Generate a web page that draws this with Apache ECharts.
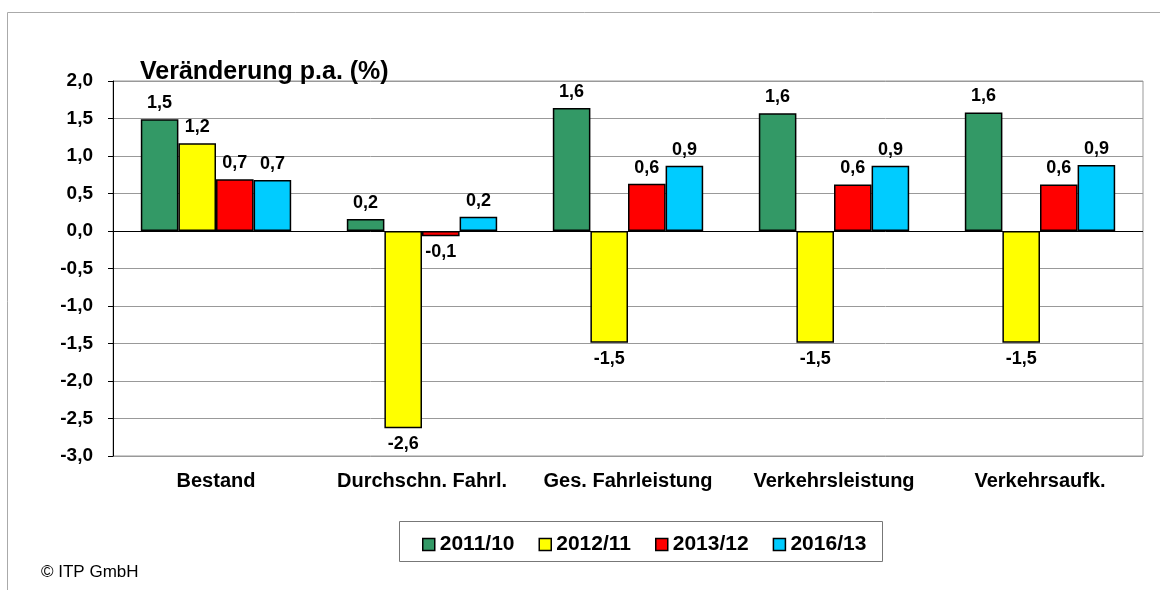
<!DOCTYPE html>
<html>
<head>
<meta charset="utf-8">
<script src="https://cdn.jsdelivr.net/npm/echarts@6/dist/echarts.min.js"></script>
<style>
  html, body { margin: 0; padding: 0; background: #fff; }
  #chart { width: 1160px; height: 590px; }
</style>
</head>
<body>
<div id="chart"></div>
<script>
// Kategorien und Werte
const categories = ['Bestand', 'Durchschn. Fahrl.', 'Ges. Fahrleistung', 'Verkehrsleistung', 'Verkehrsaufk.']
const seriesNames = ['2011/10', '2012/11', '2013/12', '2016/13']
const v2011 = [1.49, 0.16, 1.64, 1.57, 1.58]
const v2012 = [1.17, -2.63, -1.49, -1.49, -1.49]
const v2013 = [0.69, -0.07, 0.63, 0.62, 0.62]
const v2016 = [0.68, 0.19, 0.87, 0.87, 0.88]
const colors = ['#339966', '#ffff00', '#ff0000', '#00ccff']

const fmt = (v) => v.toFixed(1).replace('.', ',')
const font = 'Liberation Sans, Arial, sans-serif'

function makeSeries(name, data, color, idx) {
  const s = {
    name: name,
    type: 'bar',
    data: data.map((v) => ({
      value: v,
      label: { position: v < 0 ? 'bottom' : 'top' },
    })),
    barGap: '0%',
    barCategoryGap: '27%',
    itemStyle: { color: color, borderColor: '#000', borderWidth: 1.5 },
    label: {
      show: true,
      distance: 7,
      color: '#000',
      fontFamily: font,
      fontWeight: 'bold',
      fontSize: 18,
      formatter: (p) => fmt(p.value),
    },
  }
  if (idx === 0) {
    // Nulllinie schwarz
    s.markLine = {
      silent: true,
      symbol: 'none',
      label: { show: false },
      lineStyle: { color: '#000', width: 1, type: 'solid' },
      data: [{ yAxis: 0 }],
    }
  }
  return s
}

const chart = echarts.init(document.getElementById('chart'))
chart.setOption({
  animation: false,
  textStyle: { fontFamily: font },
  title: {
    text: 'Veränderung p.a. (%)',
    left: 135,
    top: 55,
    textStyle: { fontFamily: font, fontWeight: 'bold', fontSize: 25, color: '#000' },
  },
  grid: {
    left: 113, right: 17, top: 81, bottom: 134,
    show: true, borderColor: '#999', borderWidth: 1,
  },
  legend: {
    data: seriesNames,
    left: 417,
    top: 529,
    icon: 'rect',
    itemWidth: 12,
    itemHeight: 12,
    itemGap: 24,
    itemStyle: { borderColor: '#000', borderWidth: 1.5 },
    textStyle: { fontFamily: font, fontWeight: 'bold', fontSize: 21, color: '#000' },
  },
  xAxis: {
    type: 'category',
    data: categories,
    axisLine: { onZero: false, show: false },
    axisTick: { show: false },
    axisLabel: { interval: 0, hideOverlap: false, margin: 15, color: '#000', fontFamily: font, fontWeight: 'bold', fontSize: 20 },
  },
  yAxis: {
    type: 'value',
    min: -3,
    max: 2,
    interval: 0.5,
    axisLine: { show: true, lineStyle: { color: '#000', width: 1 } },
    axisTick: { show: true, length: 5, lineStyle: { color: '#000' } },
    axisLabel: { margin: 20, color: '#000', fontFamily: font, fontWeight: 'bold', fontSize: 19, formatter: (v) => fmt(v) },
    splitLine: { show: true, lineStyle: { color: '#999', width: 1 } },
  },
  graphic: [
    {
      type: 'rect',
      shape: { x: 7.5, y: 12.5, width: 1200, height: 700 },
      style: { fill: 'none', stroke: '#aaa', lineWidth: 1 },
      silent: true,
      z: -10,
    },
    {
      type: 'rect',
      shape: { x: 399.5, y: 521.5, width: 483, height: 40 },
      style: { fill: 'none', stroke: '#777', lineWidth: 1 },
      silent: true,
    },
    {
      type: 'text',
      left: 41,
      top: 564,
      style: { text: '© ITP GmbH', fill: '#000', font: '17px ' + font },
    },
  ],
  series: [
    makeSeries(seriesNames[0], v2011, colors[0], 0),
    makeSeries(seriesNames[1], v2012, colors[1], 1),
    makeSeries(seriesNames[2], v2013, colors[2], 2),
    makeSeries(seriesNames[3], v2016, colors[3], 3),
  ],
})
</script>
</body>
</html>
